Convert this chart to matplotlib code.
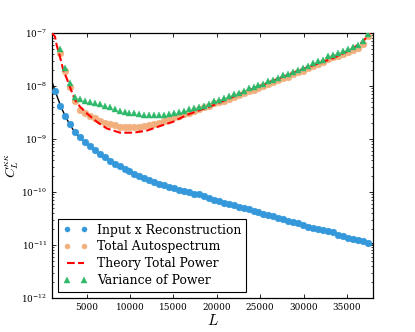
import matplotlib
matplotlib.use('Agg')
import matplotlib.pyplot as plt
import numpy as np

plt.rcParams['font.family'] = 'DejaVu Serif'
plt.rcParams['mathtext.fontset'] = 'cm'

# Bin centres in L
ell = [1350, 1922, 2494, 3066, 3638, 4210, 4782, 5354, 5926, 6498,
       7070, 7642, 8214, 8786, 9358, 9930, 10502, 11074, 11646, 12218,
       12790, 13362, 13934, 14506, 15078, 15650, 16222, 16794, 17366, 17938,
       18510, 19082, 19654, 20226, 20798, 21370, 21942, 22514, 23086, 23658,
       24230, 24802, 25374, 25946, 26518, 27090, 27662, 28234, 28806, 29378,
       29950, 30522, 31094, 31666, 32238, 32810, 33382, 33954, 34526, 35098,
       35670, 36242, 36814, 37386]

# log10 of the measured spectra at each bin
log_cross = [-8.094, -8.372, -8.560, -8.723, -8.874, -8.968, -9.062, -9.138, -9.213, -9.283,
             -9.345, -9.409, -9.466, -9.509, -9.560, -9.609, -9.655, -9.692, -9.736, -9.774,
             -9.811, -9.842, -9.872, -9.900, -9.928, -9.957, -9.983, -10.008, -10.034, -10.047,
             -10.079, -10.119, -10.155, -10.175, -10.200, -10.225, -10.251, -10.274, -10.300, -10.326,
             -10.357, -10.381, -10.406, -10.428, -10.453, -10.483, -10.508, -10.540, -10.574, -10.591,
             -10.619, -10.651, -10.672, -10.689, -10.715, -10.740, -10.764, -10.808, -10.836, -10.860,
             -10.885, -10.898, -10.921, -10.955]

log_auto = [-6.90, -7.38, -7.717, -8.025, -8.277, -8.453, -8.515, -8.566, -8.609, -8.655,
            -8.692, -8.717, -8.742, -8.768, -8.779, -8.779, -8.779, -8.768, -8.755, -8.736,
            -8.717, -8.692, -8.655, -8.628, -8.591, -8.566, -8.528, -8.504, -8.466, -8.440,
            -8.402, -8.372, -8.330, -8.305, -8.280, -8.242, -8.201, -8.175, -8.141, -8.097,
            -8.076, -8.035, -8.005, -7.956, -7.929, -7.895, -7.846, -7.824, -7.778, -7.744,
            -7.710, -7.665, -7.624, -7.582, -7.552, -7.484, -7.461, -7.435, -7.393, -7.352,
            -7.318, -7.276, -7.210, -7.050]

log_var = [-6.85, -7.31, -7.666, -7.938, -8.200, -8.251, -8.277, -8.296, -8.315, -8.340,
           -8.377, -8.402, -8.440, -8.466, -8.485, -8.504, -8.515, -8.528, -8.547, -8.547,
           -8.547, -8.547, -8.547, -8.528, -8.515, -8.485, -8.466, -8.440, -8.421, -8.402,
           -8.377, -8.332, -8.287, -8.257, -8.230, -8.192, -8.151, -8.125, -8.091, -8.047,
           -8.026, -7.985, -7.955, -7.906, -7.879, -7.845, -7.796, -7.774, -7.728, -7.694,
           -7.660, -7.615, -7.574, -7.532, -7.502, -7.434, -7.411, -7.385, -7.343, -7.302,
           -7.268, -7.226, -7.160, -7.019]

# Theory curves (log10)
ell_th_cross = [1000, 1350, 2000, 2500, 3000, 3500, 4000, 5000, 6000, 7000, 8000, 9000,
                10000, 12000, 14000, 16000, 18000, 20000, 22000, 24000, 26000, 28000,
                30000, 32000, 34000, 36000, 38000]
log_th_cross = [-7.92, -8.09, -8.38, -8.56, -8.71, -8.84, -8.94, -9.09, -9.23, -9.34, -9.44, -9.53,
                -9.61, -9.76, -9.87, -9.97, -10.06, -10.15, -10.25, -10.345, -10.435, -10.52,
                -10.615, -10.705, -10.80, -10.89, -10.98]

ell_th_total = [1000, 1346, 1540, 1922, 2302, 2694, 3271, 3651, 4227, 5000, 6152, 7305,
                8838, 10371, 11915, 13448, 14981, 16525, 18058, 19211, 21500, 23822,
                26700, 29585, 33389, 35348, 36846, 37422, 38000]
log_th_total = [-7.00, -7.07, -7.23, -7.45, -7.70, -7.855, -8.107, -8.264, -8.39, -8.515, -8.674, -8.80,
                -8.881, -8.881, -8.843, -8.755, -8.674, -8.547, -8.453, -8.39, -8.23, -8.075,
                -7.885, -7.698, -7.477, -7.32, -7.164, -7.04, -6.94]

c_blue = '#3498db'
c_orange = '#f2b07e'
c_green = '#2eb86a'

fig = plt.figure(figsize=(4.15, 3.32), dpi=100)
ax = fig.add_axes([52/415, 34/332, 321/415, 265/332])

ax.plot(ell_th_cross, 10**np.array(log_th_cross), color='k', lw=1.0, zorder=2)
ax.plot(ell, 10**np.array(log_cross), 'o', color=c_blue, mec=c_blue, ms=4.9, mew=0.3,
        label='Input x Reconstruction', zorder=3)
ax.plot(ell, 10**np.array(log_auto), 'o', color=c_orange, mec=c_orange, ms=4.9, mew=0.3,
        label='Total Autospectrum', zorder=3)
ax.plot(ell_th_total, 10**np.array(log_th_total), '--', color='red', lw=1.5,
        label='Theory Total Power', zorder=4)
ax.plot(ell, 10**np.array(log_var), '^', color=c_green, mec=c_green, ms=4.9, mew=0.3,
        label='Variance of Power', zorder=5)

ax.set_yscale('log')
ax.set_xlim(1000, 38000)
ax.set_ylim(1e-12, 1e-7)
ax.set_xticks([5000, 10000, 15000, 20000, 25000, 30000, 35000])

ax.tick_params(which='both', direction='in', top=True, right=True, labelsize=6.4)
ax.tick_params(which='major', length=3, width=0.6)
ax.tick_params(which='minor', length=1.6, width=0.5)
for s in ax.spines.values():
    s.set_linewidth(0.9)

ax.set_xlabel('$L$', fontsize=11, labelpad=1)
ax.set_ylabel(r'$C_L^{\kappa\kappa}$', fontsize=10, labelpad=0)

leg = ax.legend(loc='lower left', numpoints=2, fontsize=8.9, fancybox=False,
                framealpha=1, edgecolor='black', borderaxespad=0.5, borderpad=0.4,
                handlelength=1.95, handletextpad=0.8, markerscale=0.75, labelspacing=0.3)
leg.get_frame().set_linewidth(0.8)

fig.savefig('out.png', dpi=100)
